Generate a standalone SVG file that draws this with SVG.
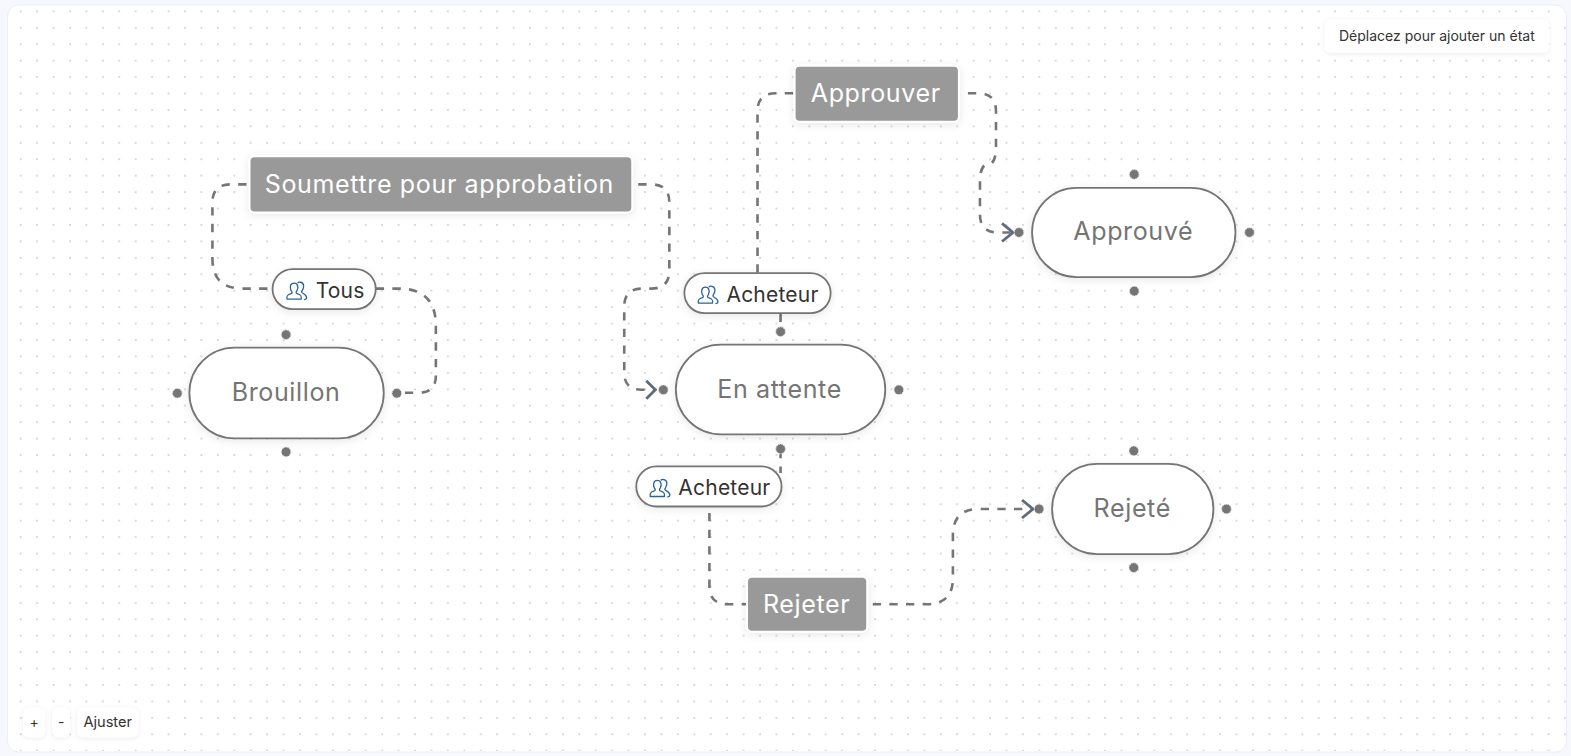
<svg xmlns="http://www.w3.org/2000/svg" width="1571" height="756" viewBox="0 0 1571 756">
<style>
text{font-family:Inter,"Liberation Sans",sans-serif;font-optical-sizing:none}
.st rect{fill:#fff;stroke:#757575;stroke-width:1.8;filter:url(#sh)}
.st text{font-size:25px;letter-spacing:.62px;fill:#757575;text-anchor:middle}
.ac rect{fill:#999;stroke:#fff;stroke-width:2;filter:url(#sh)}
.ac text{font-size:25px;letter-spacing:.62px;fill:#fff;text-anchor:middle}
.rl rect{fill:#fff;stroke:#757575;stroke-width:1.8;filter:url(#sh)}
.rl text{font-size:21px;letter-spacing:.2px;fill:#333}
.ip{fill:none;stroke:#2a6496;stroke-width:1.3}
.hd{fill:#757575;stroke:#dcdcdc;stroke-width:1;stroke-dasharray:1.500 1}
.cn{fill:none;stroke:#757575;stroke-width:2.600;stroke-dasharray:8.300 8.300}
.ar{fill:none;stroke:#5f6b78;stroke-width:2.800}
.bt rect{fill:#fff;filter:url(#sb)}
.bt text{font-size:14px;fill:#333;text-anchor:middle}
.bt .w{font-size:14.600px}
</style>
<defs>
<pattern id="g" x="0" y="0" width="16.430" height="16.430" patternUnits="userSpaceOnUse" patternTransform="translate(3.270 10.400)">
<circle cx="1" cy="1" r="0.9" fill="#c8c8c8"/>
</pattern>
<filter id="sh" x="-20%" y="-30%" width="140%" height="170%"><feDropShadow dx="0" dy="2" stdDeviation="4" flood-color="#000" flood-opacity=".09"/></filter>
<filter id="sb" x="-30%" y="-30%" width="160%" height="170%"><feDropShadow dx="0" dy="1" stdDeviation="2" flood-color="#000" flood-opacity=".08"/></filter>
<g id="ic"><path class="ip" d="M1 17.500C0 14 2 13 5 12C6.500 11.500 6 10 5 9C3.500 6 4 1.500 8 1.500C12 1.500 12.500 6 11 9C10 10 9.500 11.500 11 12C14 13 16 14 15 17.500Z"/><path class="ip" d="M11.500 1.500C12.500 0 17 0 17.500 4C18 7 15.500 9 15.500 10.500C16 12 21 12.500 20.500 16.500C20.300 17.500 19.500 18 18 18"/></g>
</defs>
<rect width="1571" height="756" fill="#f7f8fe"/>
<rect x="7.500" y="5" width="1559" height="747" rx="11" fill="#fff" stroke="#eceef6"/>
<rect x="8" y="6" width="1558" height="745" rx="11" fill="url(#g)"/>

<g transform="scale(1.002)">
<g id="connectors">
<path class="cn" d="M246 184H230Q212 184 212 202V258Q212 288 242 288H272"/>
<path class="cn" d="M375 288H398Q435 288 435 325V375Q435 392 418 392H396"/>
<path class="cn" d="M637 184H650Q668 184 668 202V270Q668 288 650 288H641Q623 288 623 306V372Q623 389 640 389H655"/>
<path class="cn" d="M756 272V111Q756 93 774 93H793"/>
<path class="cn" d="M966 93H976Q994 93 994 111V146Q994 164 986 164Q978 164 978 182V214Q978 232 996 232H1010"/>
<path class="cn" d="M779 313V331"/>
<path class="cn" d="M779 449V472"/>
<path class="cn" d="M708 512V585Q708 603 726 603H745"/>
<path class="cn" d="M871 603H925Q951 603 951 577V534Q951 508 977 508H1030"/>
<path class="ar" d="M645 380L654 389L645 398M1000 223L1011 232L1000 241M1020 499L1031 508L1020 517"/>
</g>

<g id="n-brouillon" class="st"><rect x="189" y="347" width="194" height="90.500" rx="45.250"/><text x="285.500" y="400">Brouillon</text></g>
<g id="n-attente" class="st"><rect x="674.500" y="344" width="209" height="89.500" rx="44.750"/><text x="778" y="397">En attente</text></g>
<g id="n-approuve" class="st"><rect x="1030" y="187.500" width="203" height="89" rx="44.500"/><text x="1131" y="240">Approuvé</text></g>
<g id="n-rejete" class="st"><rect x="1050" y="463" width="161" height="90" rx="45"/><text x="1130" y="516">Rejeté</text></g>

<g id="handles">
<circle class="hd" cx="285.500" cy="334" r="4.800"/><circle class="hd" cx="177" cy="392.500" r="4.800"/><circle class="hd" cx="396" cy="392.500" r="4.800"/><circle class="hd" cx="285.500" cy="451" r="4.800"/>
<circle class="hd" cx="779" cy="331" r="4.800"/><circle class="hd" cx="662" cy="389" r="4.800"/><circle class="hd" cx="897" cy="389" r="4.800"/><circle class="hd" cx="779" cy="448" r="4.800"/>
<circle class="hd" cx="1132" cy="174" r="4.800"/><circle class="hd" cx="1017" cy="232" r="4.800"/><circle class="hd" cx="1247" cy="232" r="4.800"/><circle class="hd" cx="1132" cy="290.500" r="4.800"/>
<circle class="hd" cx="1131.500" cy="450" r="4.800"/><circle class="hd" cx="1037" cy="508" r="4.800"/><circle class="hd" cx="1224" cy="508" r="4.800"/><circle class="hd" cx="1131.500" cy="566.500" r="4.800"/>
</g>

<g id="a-soumettre" class="ac"><rect x="249" y="156" width="382" height="56" rx="5"/><text x="438.500" y="193">Soumettre pour approbation</text></g>
<g id="a-approuver" class="ac"><rect x="793" y="65.500" width="164" height="56" rx="5"/><text x="874" y="102">Approuver</text></g>
<g id="a-rejeter" class="ac"><rect x="745.500" y="575.500" width="120" height="55" rx="5"/><text x="805" y="612">Rejeter</text></g>

<g id="r-tous" class="rl"><rect x="272" y="268.500" width="103" height="40" rx="20"/><use href="#ic" x="285.500" y="281"/><text x="315" y="297">Tous</text></g>
<g id="r-acheteur1" class="rl"><rect x="683" y="272.500" width="146" height="40" rx="20"/><use href="#ic" x="696" y="285"/><text x="725" y="301">Acheteur</text></g>
<g id="r-acheteur2" class="rl"><rect x="635" y="465.500" width="145" height="40" rx="20"/><use href="#ic" x="648" y="478"/><text x="677" y="494">Acheteur</text></g>

<g id="b-drag" class="bt"><rect x="1322" y="19" width="224" height="34" rx="6"/><text x="1434" y="41">Déplacez pour ajouter un état</text></g>
<g id="b-plus" class="bt"><rect x="23" y="706" width="22" height="30" rx="6"/><text x="34" y="726">+</text></g>
<g id="b-minus" class="bt"><rect x="52" y="706" width="18" height="30" rx="6"/><text x="61" y="726">-</text></g>
<g id="b-fit" class="bt"><rect x="77" y="706" width="61" height="30" rx="6"/><text class="w" x="107.500" y="726">Ajuster</text></g>
</g>
</svg>
